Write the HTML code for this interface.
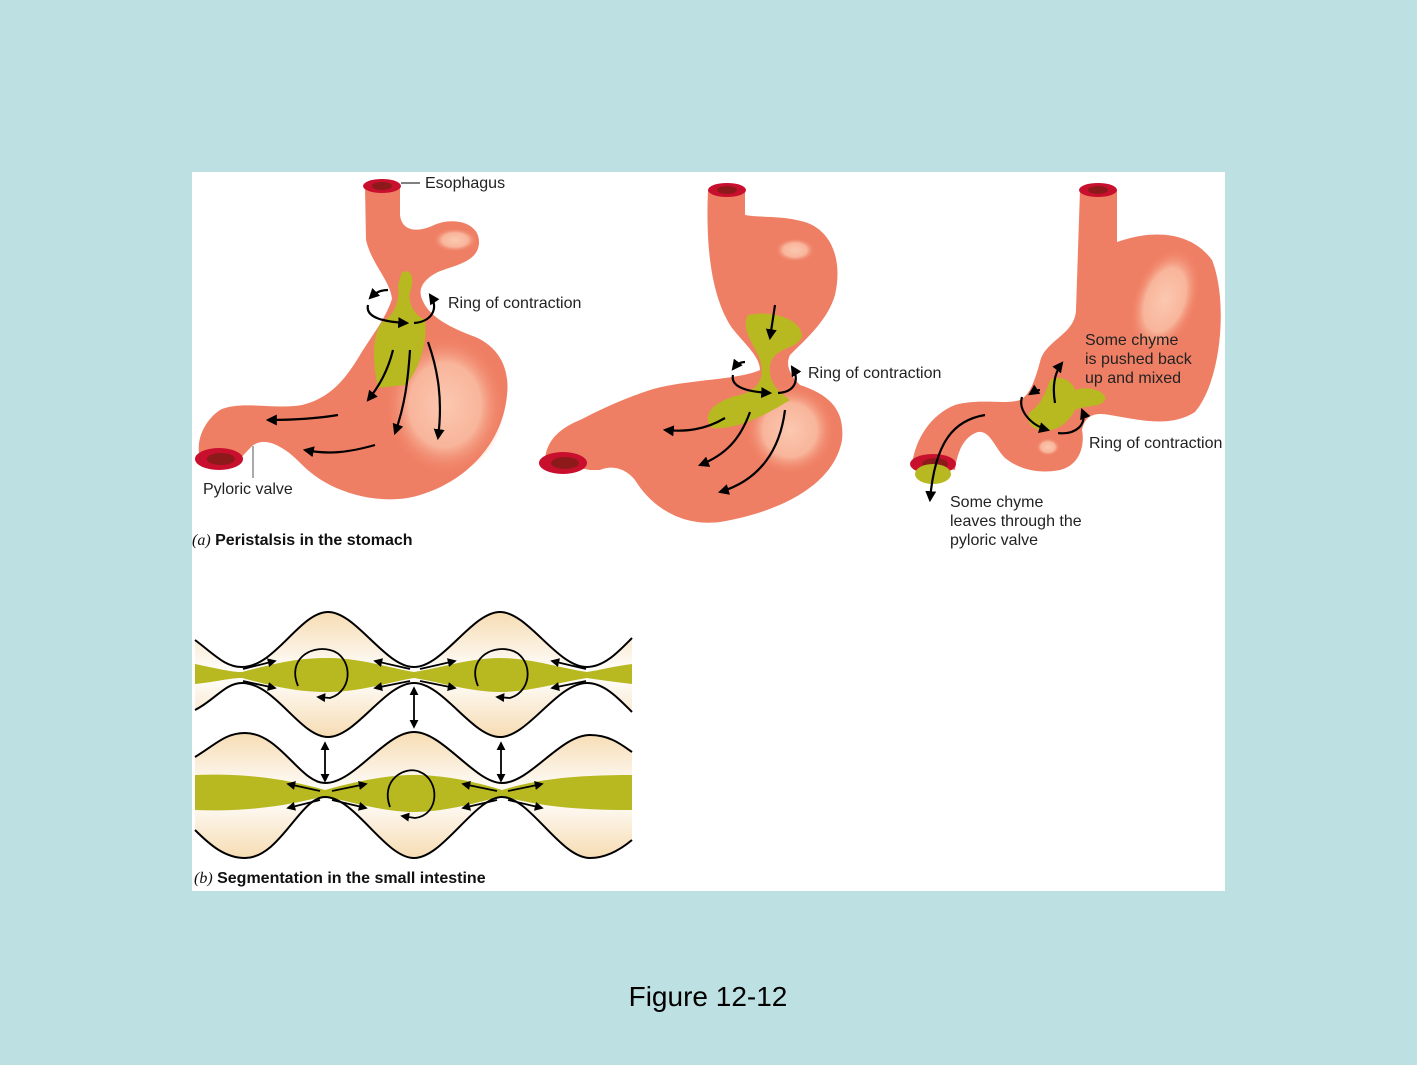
<!DOCTYPE html>
<html><head><meta charset="utf-8"><style>
body{margin:0;width:1417px;height:1065px;background:#bde1e2;overflow:hidden;font-family:"Liberation Sans",sans-serif}
svg{position:absolute;left:0;top:0}
</style></head><body>
<svg width="1417" height="1065" viewBox="0 0 1417 1065">
<defs>
<marker id="a" viewBox="0 0 10 10" refX="8" refY="5" markerWidth="5" markerHeight="5" orient="auto-start-reverse"><path d="M0,0 L10,5 L0,10 Z" fill="#000"/></marker>
<radialGradient id="hl" cx="0.5" cy="0.5" r="0.5"><stop offset="0" stop-color="#fbc8b0"/><stop offset="0.6" stop-color="#f8b59b"/><stop offset="1" stop-color="#ef7f64" stop-opacity="0"/></radialGradient>
<linearGradient id="cr" x1="0" y1="0" x2="0" y2="1"><stop offset="0" stop-color="#f6dcb3"/><stop offset="0.5" stop-color="#ffffff"/><stop offset="1" stop-color="#f6dcb3"/></linearGradient>
</defs>
<rect x="192" y="172" width="1033" height="719" fill="#fff"/>

<!-- Stomach 1 -->
<path d="M365,186 L400,186 L400,215 C402,232 418,232 432,226 C452,216 480,222 479,243 C478,262 455,265 438,272 C422,280 418,290 422,299 C428,315 445,325 470,335 C500,345 510,370 507,395 C503,440 470,480 420,495 C395,503 360,500 330,485 C305,472 298,458 285,450 C270,440 260,440 252,446 L235,464 L200,458 C195,440 205,420 220,410 C240,400 275,410 302,405 C330,398 345,380 360,355 C372,335 385,320 392,299 C390,280 372,265 366,240 Z" fill="#ef7f64"/>
<ellipse cx="445" cy="405" rx="60" ry="70" fill="url(#hl)"/>
<ellipse cx="455" cy="240" rx="22" ry="12" fill="url(#hl)"/>
<path d="M402,272 C412,268 415,280 410,292 C408,305 415,315 425,320 C428,340 420,370 405,385 L378,388 C372,360 372,335 382,322 C395,315 400,300 398,285 Z" fill="#b8b820"/>
<ellipse cx="382" cy="186" rx="19" ry="7" fill="#c8102e"/><ellipse cx="382" cy="186" rx="10" ry="4" fill="#8c1a1a"/>
<ellipse cx="219" cy="459" rx="24" ry="11" fill="#c8102e"/><ellipse cx="221" cy="459" rx="14" ry="6" fill="#8c1a1a"/>
<line x1="401" y1="183" x2="420" y2="183" stroke="#000" stroke-width="1"/>
<line x1="253" y1="446" x2="253" y2="478" stroke="#555" stroke-width="1"/>
<g fill="none" stroke="#000" stroke-width="2.2" marker-end="url(#a)">
<path d="M388,290 C380,290 375,293 370,298"/>
<path d="M368,305 C365,318 385,322 407,323"/>
<path d="M414,323 C430,322 440,310 430,295"/>
<path d="M393,350 C388,370 380,385 368,400"/>
<path d="M410,350 C408,380 405,405 395,433"/>
<path d="M428,342 C438,370 443,400 438,438"/>
<path d="M338,415 C320,418 300,420 268,420"/>
<path d="M375,445 C350,452 330,455 305,450"/>
</g>

<!-- Stomach 2 -->
<path d="M708,190 L745,190 L745,215 C760,218 780,215 805,222 C835,232 842,265 835,295 C828,320 805,340 790,355 C785,365 790,375 800,385 C830,395 845,410 842,440 C835,480 790,510 720,522 C680,527 650,505 635,480 C625,468 612,465 600,470 L590,470 L545,462 C545,445 555,430 580,420 C600,410 620,400 650,390 C680,380 740,380 760,370 C760,355 740,340 730,325 C715,300 705,260 708,190 Z" fill="#ef7f64"/>
<ellipse cx="790" cy="430" rx="45" ry="45" fill="url(#hl)"/>
<ellipse cx="795" cy="250" rx="20" ry="12" fill="url(#hl)"/>
<path d="M748,315 C770,310 800,318 802,335 C800,350 775,345 770,365 C768,385 780,392 790,400 C770,412 740,430 712,428 C700,415 715,400 740,395 C760,390 765,375 760,360 C755,345 740,330 748,315 Z" fill="#b8b820"/>
<ellipse cx="727" cy="190" rx="19" ry="7" fill="#c8102e"/><ellipse cx="727" cy="190" rx="10" ry="4" fill="#8c1a1a"/>
<ellipse cx="563" cy="463" rx="24" ry="11" fill="#c8102e"/><ellipse cx="565" cy="463" rx="14" ry="6" fill="#8c1a1a"/>
<g fill="none" stroke="#000" stroke-width="2.2" marker-end="url(#a)">
<path d="M775,305 L770,338"/>
<path d="M745,362 C740,362 736,365 733,369"/>
<path d="M733,375 C730,388 750,392 770,393"/>
<path d="M778,393 C795,392 800,380 792,367"/>
<path d="M725,418 C705,430 685,432 665,430"/>
<path d="M750,412 C740,440 725,455 700,465"/>
<path d="M785,410 C780,450 760,480 720,492"/>
</g>

<!-- Stomach 3 -->
<path d="M1080,190 L1117,190 L1117,242 C1150,230 1190,230 1212,260 C1228,300 1222,380 1195,412 C1170,428 1140,420 1110,415 C1095,412 1085,415 1082,430 C1085,445 1080,465 1060,470 C1040,474 1020,470 1005,458 C995,448 990,430 978,432 C968,435 958,445 955,470 L912,465 C915,440 930,415 955,405 C980,398 1005,405 1020,400 C1030,395 1035,380 1040,362 C1045,340 1075,335 1076,310 Z" fill="#ef7f64"/>
<ellipse cx="1165" cy="300" rx="32" ry="55" fill="url(#hl)" transform="rotate(20 1165 300)"/>
<ellipse cx="1048" cy="447" rx="12" ry="9" fill="url(#hl)"/>
<path d="M1050,380 C1060,375 1072,380 1075,390 C1090,385 1108,392 1105,400 C1100,408 1085,405 1075,410 C1070,420 1058,432 1045,430 C1030,430 1025,420 1030,412 C1040,405 1045,395 1050,380 Z" fill="#b8b820"/>
<ellipse cx="1098" cy="190" rx="19" ry="7" fill="#c8102e"/><ellipse cx="1098" cy="190" rx="10" ry="4" fill="#8c1a1a"/>
<ellipse cx="933" cy="464" rx="23" ry="10" fill="#c8102e"/><ellipse cx="935" cy="464" rx="13" ry="6" fill="#8c1a1a"/>
<ellipse cx="933" cy="474" rx="18" ry="10" fill="#b8b820"/>
<g fill="none" stroke="#000" stroke-width="2.2" marker-end="url(#a)">
<path d="M985,415 C955,420 935,440 930,500"/>
<path d="M1055,403 C1052,385 1055,372 1062,363"/>
<path d="M1040,390 C1036,390 1033,392 1030,394"/>
<path d="M1022,397 C1018,410 1030,425 1048,430"/>
<path d="M1058,433 C1075,435 1088,425 1082,410"/>
</g>

<!-- Segmentation row 1 -->
<path d="M195,640 C215,655 225,667 242,667 C275,667 300,612 328,612 C356,612 385,667 414,667 C443,667 472,612 500,612 C528,612 557,667 587,667 C605,667 620,650 632,638 L632,712 C620,700 605,683 587,683 C557,683 528,737 500,737 C472,737 443,683 414,683 C385,683 356,737 328,737 C300,737 275,683 242,683 C225,683 215,700 195,710 Z" fill="url(#cr)" stroke="none"/>
<path d="M195,664 C215,668 230,672 242,672 C280,662 300,658 328,658 C360,658 390,668 414,672 C440,668 470,658 500,658 C530,658 560,668 587,672 C600,670 615,666 632,664 L632,684 C615,682 600,680 587,678 C560,682 530,692 500,692 C470,692 440,682 414,678 C390,682 360,692 328,692 C300,692 280,688 242,678 C230,678 215,682 195,684 Z" fill="#b8b820"/>
<g fill="none" stroke="#000" stroke-width="2">
<path d="M195,640 C215,655 225,667 242,667 C275,667 300,612 328,612 C356,612 385,667 414,667 C443,667 472,612 500,612 C528,612 557,667 587,667 C605,667 620,650 632,638"/>
<path d="M195,710 C215,700 225,683 242,683 C275,683 300,737 328,737 C356,737 385,683 414,683 C443,683 472,737 500,737 C528,737 557,683 587,683 C605,683 620,700 632,712"/>
</g>
<!-- Row 2 -->
<path d="M195,757 C215,745 225,733 245,733 C280,733 300,783 325,783 C355,783 385,732 414,732 C443,732 475,783 502,783 C530,783 560,735 590,735 C610,735 622,745 632,752 L632,840 C620,850 605,858 590,858 C560,858 530,797 502,797 C475,797 443,858 414,858 C385,858 355,797 325,797 C300,797 280,858 245,858 C225,858 210,845 195,830 Z" fill="url(#cr)"/>
<path d="M195,775 C250,773 290,780 325,790 C360,780 390,775 414,775 C440,775 470,780 502,790 C535,780 570,775 632,775 L632,810 C570,810 535,805 502,796 C470,805 440,812 414,812 C390,812 360,805 325,796 C290,805 250,812 195,810 Z" fill="#b8b820"/>
<g fill="none" stroke="#000" stroke-width="2">
<path d="M195,757 C215,745 225,733 245,733 C280,733 300,783 325,783 C355,783 385,732 414,732 C443,732 475,783 502,783 C530,783 560,735 590,735 C610,735 622,745 632,752"/>
<path d="M195,830 C210,845 225,858 245,858 C280,858 300,797 325,797 C355,797 385,858 414,858 C443,858 475,797 502,797 C530,797 560,858 590,858 C605,858 620,850 632,840"/>
</g>
<g fill="none" stroke="#000" stroke-width="1.8" marker-end="url(#a)">
<path d="M243,669 L275,661"/><path d="M243,681 L275,688"/>
<path d="M410,669 L375,661"/><path d="M410,681 L375,688"/>
<path d="M420,669 L455,661"/><path d="M420,681 L455,688"/>
<path d="M586,669 L552,661"/><path d="M586,681 L552,688"/>
<path d="M320,791 L288,784"/><path d="M320,800 L288,808"/>
<path d="M332,791 L366,784"/><path d="M332,800 L366,808"/>
<path d="M497,791 L463,784"/><path d="M497,800 L463,808"/>
<path d="M508,791 L542,784"/><path d="M508,800 L542,808"/>
<path d="M414,688 L414,727" marker-start="url(#a)"/>
<path d="M325,743 L325,781" marker-start="url(#a)"/>
<path d="M501,743 L501,781" marker-start="url(#a)"/>
<path d="M298,686 C287,660 310,645 330,650 C352,655 355,690 330,698 L318,697"/>
<path d="M478,686 C467,660 490,645 510,650 C532,655 535,690 510,698 L497,697"/>
<path d="M390,807 C380,780 405,765 420,772 C440,780 440,815 415,818 L402,816"/>
</g>

<g font-size="16" fill="#222">
<text x="425" y="188">Esophagus</text>
<text x="448" y="308">Ring of contraction</text>
<text x="203" y="494">Pyloric valve</text>
<text x="808" y="378">Ring of contraction</text>
<text x="1085" y="345">Some chyme</text>
<text x="1085" y="364">is pushed back</text>
<text x="1085" y="383">up and mixed</text>
<text x="1089" y="448">Ring of contraction</text>
<text x="950" y="507">Some chyme</text>
<text x="950" y="526">leaves through the</text>
<text x="950" y="545">pyloric valve</text>
</g>
<text x="192" y="545" font-size="16" fill="#111"><tspan font-family="Liberation Serif" font-style="italic">(a)</tspan><tspan font-weight="bold"> Peristalsis in the stomach</tspan></text>
<text x="194" y="883" font-size="16" fill="#111"><tspan font-family="Liberation Serif" font-style="italic">(b)</tspan><tspan font-weight="bold"> Segmentation in the small intestine</tspan></text>
<text x="708" y="1006" font-size="28" text-anchor="middle" fill="#000">Figure 12-12</text>
</svg>
</body></html>
